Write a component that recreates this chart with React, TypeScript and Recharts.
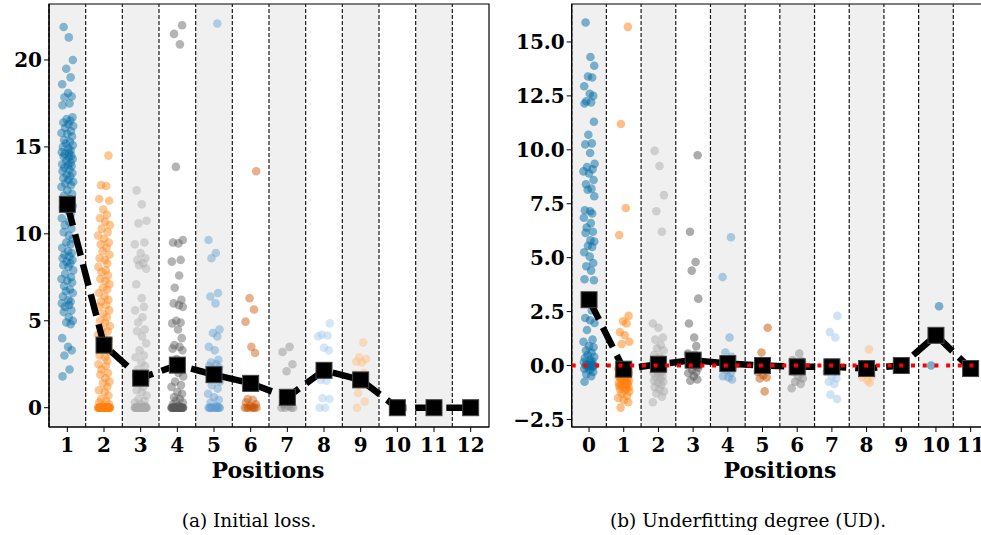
import React from "react";
import { ComposedChart, Scatter, XAxis, YAxis, ReferenceArea, ReferenceLine } from "recharts";

// tableau-colorblind10, cycled over positions
const palette = ["#006BA4", "#FF800E", "#ABABAB", "#595959", "#5F9ED1", "#C85200", "#898989", "#A2C8EC", "#FFBC79", "#CFCFCF"];

// (a) Initial loss
const lossPositions = [1, 2, 3, 4, 5, 6, 7, 8, 9, 10, 11, 12];
const lossMeans = [11.7, 3.6, 1.7, 2.45, 1.9, 1.4, 0.6, 2.15, 1.6, 0, 0, 0];
const lossValues: number[][] = [
  [21.9, 21.3, 20.0, 19.5, 19.0, 18.6, 18.1, 17.9, 17.85, 17.5, 17.4, 16.7, 16.6, 16.5, 16.4, 16.3, 16.2, 16.1, 15.9, 15.8, 15.75, 15.6, 15.4, 15.3, 15.2, 15.1, 15.0, 14.9, 14.8, 14.7, 14.65, 14.6, 14.5, 14.45, 14.4, 14.3, 14.2, 14.1, 14.0, 13.95, 13.9, 13.8, 13.7, 13.6, 13.5, 13.4, 13.3, 13.2, 13.1, 13.0, 12.9, 12.8, 12.7, 12.5, 12.3, 12.2, 12.0, 11.8, 11.6, 11.5, 11.3, 11.1, 10.9, 10.7, 10.5, 10.3, 10.1, 9.9, 9.7, 9.5, 9.4, 9.2, 9.0, 8.9, 8.8, 8.7, 8.6, 8.5, 8.4, 8.3, 8.2, 8.1, 7.9, 7.7, 7.5, 7.4, 7.3, 7.2, 7.0, 6.8, 6.7, 6.6, 6.4, 6.2, 6.1, 6.0, 5.9, 5.8, 5.6, 5.5, 5.2, 5.0, 4.9, 4.8, 4.0, 3.5, 3.3, 3.0, 2.2, 1.8],
  [14.5, 12.8, 12.75, 12.0, 11.9, 11.4, 11.1, 10.9, 10.7, 10.5, 10.3, 10.1, 9.9, 9.7, 9.5, 9.4, 9.2, 9.0, 8.8, 8.6, 8.5, 8.3, 8.1, 7.9, 7.8, 7.6, 7.4, 7.3, 7.1, 6.9, 6.8, 6.6, 6.4, 6.2, 6.1, 5.9, 5.8, 5.6, 5.4, 5.2, 5.0, 4.9, 4.7, 4.5, 4.4, 4.2, 4.0, 3.9, 3.7, 3.5, 3.4, 3.2, 3.0, 2.9, 2.7, 2.5, 2.4, 2.2, 2.0, 1.9, 1.7, 1.5, 1.4, 1.2, 1.0, 0.9, 0.7, 0.5, 0.4, 0.3, 0.2, 0.1, 0, 0, 0, 0, 0, 0, 0, 0, 0, 0, 0, 0, 0, 0, 0, 0, 0, 0, 0, 0, 0, 0, 0, 0, 0, 0, 0, 0, 0, 0, 0, 0, 0, 0, 0],
  [12.5, 11.7, 10.75, 10.6, 9.5, 9.4, 8.9, 8.6, 8.5, 8.3, 8.2, 8.0, 7.1, 6.3, 5.8, 5.6, 5.2, 4.9, 4.5, 4.4, 4.1, 3.7, 3.3, 3.0, 2.9, 2.6, 2.4, 2.2, 2.0, 1.8, 1.6, 1.4, 1.2, 1.0, 0.9, 0.7, 0.5, 0.4, 0.3, 0.2, 0.1, 0, 0, 0, 0, 0, 0, 0, 0, 0, 0, 0, 0, 0, 0, 0, 0, 0, 0, 0, 0, 0, 0, 0, 0, 0, 0, 0, 0, 0, 0, 0, 0, 0, 0, 0],
  [22.0, 21.5, 20.9, 13.85, 9.65, 9.5, 9.45, 8.5, 8.4, 7.6, 6.9, 6.2, 6.0, 5.9, 5.8, 5.0, 4.9, 4.85, 4.5, 4.0, 3.6, 3.5, 3.4, 3.3, 2.8, 2.5, 2.3, 2.0, 1.8, 1.5, 1.3, 1.2, 0.9, 0.8, 0.6, 0.5, 0.4, 0.3, 0.2, 0.1, 0, 0, 0, 0, 0, 0, 0, 0, 0, 0, 0, 0, 0, 0, 0, 0, 0, 0, 0, 0, 0, 0, 0, 0, 0],
  [22.1, 9.65, 8.9, 8.6, 6.6, 6.4, 6.0, 4.5, 4.3, 4.1, 3.5, 3.3, 2.75, 2.6, 2.5, 2.4, 2.3, 2.2, 2.0, 1.9, 1.7, 1.5, 1.3, 1.1, 0.8, 0.6, 0.45, 0.3, 0.1, 0, 0, 0, 0, 0, 0, 0, 0, 0, 0, 0, 0],
  [13.6, 6.3, 5.65, 4.95, 3.5, 3.15, 0.5, 0.45, 0.3, 0.2, 0.1, 0, 0, 0, 0, 0, 0, 0],
  [3.5, 3.2, 2.5, 2.1, 0.3, 0.2, 0.1, 0, 0, 0, 0],
  [4.85, 4.2, 4.15, 4.1, 3.45, 3.3, 1.6, 1.55, 0.55, 0.5, 0, 0],
  [3.75, 2.9, 2.8, 2.65, 2.6, 2.0, 1.9, 1.6, 0.85, 0.35, 0],
  [],
  [],
  [],
];

// (b) Underfitting degree (UD)
const udPositions = [0, 1, 2, 3, 4, 5, 6, 7, 8, 9, 10, 11];
const udMeans = [3.05, -0.17, 0.06, 0.25, 0.09, 0.0, -0.06, -0.06, -0.14, 0.0, 1.4, -0.14];
const udValues: number[][] = [
  [15.9, 14.3, 13.9, 13.4, 13.35, 12.95, 12.6, 12.5, 12.25, 12.2, 12.15, 11.3, 10.7, 10.3, 10.25, 9.85, 9.35, 9.2, 9.1, 9.0, 8.9, 8.6, 8.4, 8.2, 8.15, 7.85, 7.2, 7.15, 7.05, 6.85, 6.6, 6.4, 6.2, 6.15, 5.8, 5.75, 5.55, 5.5, 5.25, 5.05, 4.75, 4.6, 4.4, 4.0, 3.95, 2.95, 2.55, 2.2, 2.1, 1.97, 1.65, 1.2, 1.1, 0.9, 0.85, 0.7, 0.6, 0.5, 0.4, 0.35, 0.25, 0.2, 0.15, 0.1, 0.05, 0, 0, 0, 0, -0.05, -0.1, -0.15, -0.2, -0.3, -0.4, -0.5, -0.75],
  [15.7, 11.2, 7.3, 6.05, 2.3, 2.05, 1.95, 1.55, 1.4, 1.1, 1.0, -0.1, -0.15, -0.2, -0.2, -0.25, -0.3, -0.3, -0.35, -0.4, -0.4, -0.45, -0.5, -0.5, -0.55, -0.6, -0.6, -0.65, -0.7, -0.7, -0.75, -0.8, -0.8, -0.85, -0.9, -0.9, -0.95, -1.0, -1.0, -1.05, -1.1, -1.15, -1.2, -1.3, -1.4, -1.5, -1.6, -1.7, -1.95],
  [9.95, 9.25, 7.9, 7.15, 6.2, 1.95, 1.75, 1.3, 1.2, 0.95, 0.8, 0.7, 0.5, 0.4, 0.3, 0.2, 0.1, 0.05, 0, -0.1, -0.15, -0.2, -0.25, -0.3, -0.35, -0.4, -0.5, -0.55, -0.6, -0.7, -0.75, -0.8, -0.9, -1.0, -1.1, -1.2, -1.3, -1.45, -1.7],
  [9.75, 6.2, 4.8, 4.4, 3.1, 1.95, 1.3, 0.9, 0.55, 0.5, 0.3, 0.2, 0.1, 0, -0.1, -0.2, -0.3, -0.35, -0.5, -0.65, -0.7],
  [5.95, 4.1, 1.3, 0.6, 0.4, 0.1, 0, -0.1, -0.2, -0.35, -0.5, -0.55, -0.65],
  [1.75, 0.6, 0.1, -0.3, -0.45, -0.55, -0.6, -1.2],
  [0.55, 0.25, 0.2, 0.1, -0.1, -0.3, -0.5, -0.6, -0.75, -0.85, -1.05],
  [2.3, 1.55, 1.3, -0.3, -0.5, -0.6, -0.75, -0.85, -1.35, -1.55],
  [0.75, -0.3, -0.5, -0.55, -0.7, -0.8],
  [],
  [2.75, 0],
  [],
];

// fixed strip-plot jitter pattern (in category units)
const jitter = [-0.1, 0.04, 0.15, -0.03, 0.09, -0.14, 0.02, 0.12, -0.08, 0.06, -0.13, 0.14, -0.02, 0.08, -0.11, 0.03, 0.16, -0.06, 0.1, -0.16, 0.0, 0.13, -0.09, 0.07, -0.04, 0.15, -0.12, 0.03, 0.09, -0.15, 0.05, -0.07, 0.11];

const tickStyle = { fill: "#000", fontSize: 20, fontFamily: "DejaVu Serif", fontWeight: "bold" };

const fmtUd = (v: number) => (v < 0 ? "\u2212" + Math.abs(v).toFixed(1) : v.toFixed(1));

function Panel(props: any) {
  const { positions, means, values, yDomain, yTicks, fmt, left, width, yWidth, rightMargin, alpha, zeroLine } = props;
  const xMin = positions[0] - 0.5;
  const xMax = positions[positions.length - 1] + 0.5;
  const meanData = positions.map((p: number, i: number) => ({ x: p, y: means[i] }));
  const zeroData = [{ x: xMin, y: 0 }, { x: xMax, y: 0 }];

  return (
    <div style={{ position: "absolute", left, top: 0 }}>
      <ComposedChart width={width} height={535} margin={{ top: 4, right: rightMargin, left: 0, bottom: 78 }}>
        <XAxis
          type="number"
          dataKey="x"
          domain={[xMin, xMax]}
          ticks={positions}
          allowDataOverflow
          interval={0}
          height={30}
          tick={tickStyle}
          tickSize={5}
          tickMargin={6}
          stroke="#000"
        />
        <YAxis
          type="number"
          dataKey="y"
          domain={yDomain}
          ticks={yTicks}
          allowDataOverflow
          width={yWidth}
          tick={tickStyle}
          tickFormatter={fmt}
          tickSize={5}
          tickMargin={2}
          stroke="#000"
        />
        {positions.map((p: number, i: number) =>
          i % 2 === 0 ? (
            <ReferenceArea key={"band" + p} x1={p - 0.5} x2={p + 0.5} y1={yDomain[0]} y2={yDomain[1]} fill="#f0f0f0" fillOpacity={1} stroke="none" />
          ) : null
        )}
        {positions.map((p: number) => (
          <ReferenceLine key={"sep" + p} x={p - 0.5} stroke="#1a1a1a" strokeWidth={1.2} strokeDasharray="4 2" />
        ))}
        {values.map((vals: number[], i: number) => (
          <Scatter
            key={"pts" + i}
            data={vals.map((v, j) => ({ x: positions[i] + jitter[(j + i * 7) % jitter.length], y: v }))}
            fill={palette[i % palette.length]}
            isAnimationActive={false}
            shape={(s: any) => <circle cx={s.cx} cy={s.cy} r={4.3} fill={palette[i % palette.length]} fillOpacity={alpha} />}
          />
        ))}
        <Scatter
          data={meanData}
          fill="#000"
          isAnimationActive={false}
          line={{ stroke: "#000", strokeWidth: 6.5, strokeDasharray: "22 9" }}
          shape={(s: any) => <rect x={s.cx - 8} y={s.cy - 8} width={16} height={16} fill="#000" stroke="#444" strokeWidth={1} />}
        />
        {zeroLine ? (
          <Scatter
            data={zeroData}
            fill="#ff0000"
            isAnimationActive={false}
            line={{ stroke: "#ff0000", strokeWidth: 4, strokeDasharray: "4 7.7" }}
            shape={() => <g />}
          />
        ) : null}
        <ReferenceArea x1={xMin} x2={xMax} y1={yDomain[0]} y2={yDomain[1]} fill="none" stroke="#000" strokeWidth={1.2} />
      </ComposedChart>
    </div>
  );
}

const labelStyle: any = {
  position: "absolute",
  width: 240,
  textAlign: "center",
  fontFamily: "DejaVu Serif",
  fontWeight: "bold",
  fontSize: 22,
  lineHeight: "22px",
  color: "#000",
};

const captionStyle: any = {
  position: "absolute",
  width: 400,
  textAlign: "center",
  fontFamily: "'DejaVu Serif', serif",
  fontSize: 18.5,
  lineHeight: "18px",
  color: "#000",
};

export default function App() {
  return (
    <div style={{ position: "absolute", left: 0, top: 0, width: 981, height: 535, overflow: "hidden", background: "#fff" }}>
      <Panel
        positions={lossPositions}
        means={lossMeans}
        values={lossValues}
        yDomain={[-1.11, 23.22]}
        yTicks={[0, 5, 10, 15, 20]}
        fmt={(v: number) => String(v)}
        left={0}
        width={491}
        yWidth={49}
        rightMargin={2}
        alpha={0.45}
        zeroLine={false}
      />
      <Panel
        positions={udPositions}
        means={udMeans}
        values={udValues}
        yDomain={[-2.85, 16.76]}
        yTicks={[-2.5, 0, 2.5, 5, 7.5, 10, 12.5, 15]}
        fmt={fmtUd}
        left={490}
        width={498}
        yWidth={81.7}
        rightMargin={0}
        alpha={0.5}
        zeroLine={true}
      />
      <div style={{ ...labelStyle, left: 268 - 120, top: 459 }}>Positions</div>
      <div style={{ ...labelStyle, left: 780 - 120, top: 459 }}>Positions</div>
      <div style={{ ...captionStyle, left: 249 - 200, top: 512 }}>(a) Initial loss.</div>
      <div style={{ ...captionStyle, left: 748 - 200, top: 512 }}>(b) Underfitting degree (UD).</div>
    </div>
  );
}
